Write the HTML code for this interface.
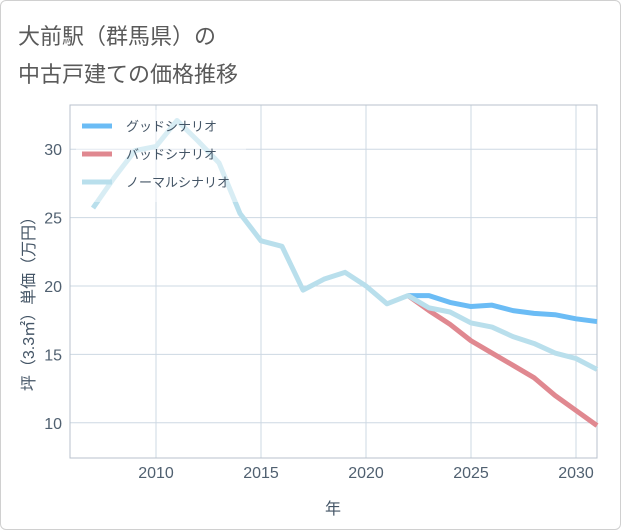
<!DOCTYPE html>
<html><head><meta charset="utf-8"><style>
body{margin:0;background:#fff;}
#wrap{position:relative;width:619px;height:528px;border:1px solid #d0d0d0;border-radius:6px;background:#fff;overflow:hidden;}
.t{position:absolute;left:17px;font:22px "Liberation Sans","Noto Sans CJK JP",sans-serif;color:#5a5a5a;}
svg text{font-family:"Liberation Sans","Noto Sans CJK JP",sans-serif;}
</style></head><body>
<div id="wrap">
<div class="t" style="top:18px">大前駅（群馬県）の</div>
<div class="t" style="top:56px">中古戸建ての価格推移</div>
<svg id="chart" width="621" height="530" style="position:absolute;left:-1px;top:-1px"></svg>
</div>
<script>
const years=[2007,2008,2009,2010,2011,2012,2013,2014,2015,2016,2017,2018,2019,2020,2021,2022,2023,2024,2025,2026,2027,2028,2029,2030,2031];
const normal=[25.7,27.9,29.9,30.2,32.1,30.6,29.0,25.3,23.3,22.9,19.7,20.5,21.0,20.0,18.7,19.3,18.4,18.1,17.3,17.0,16.3,15.8,15.1,14.7,13.9];
const fYears=[2022,2023,2024,2025,2026,2027,2028,2029,2030,2031];
const good=[19.3,19.3,18.8,18.5,18.6,18.2,18.0,17.9,17.6,17.4];
const bad=[19.3,18.2,17.2,16.0,15.1,14.2,13.3,12.0,10.9,9.8];
const xTicks=[2010,2015,2020,2025,2030];
const yTicks=[10,15,20,25,30];
const L=70,R=597,T=105,B=458;
const x=v=>156+(v-2010)*21;
const y=v=>286-(v-20)*13.68;
const svg=document.getElementById('chart');
const NS='http://www.w3.org/2000/svg';
function mk(t,a,p){const e=document.createElementNS(NS,t);for(const k in a)e.setAttribute(k,a[k]);(p||svg).appendChild(e);return e;}
let e;
xTicks.forEach(v=>{e=mk('line',{x1:x(v),x2:x(v),y1:T,y2:B,stroke:'#cdd8e3','stroke-width':1});

e=mk('text',{x:x(v),y:478,'text-anchor':'middle','font-size':16,fill:'#506070'});e.textContent=v;
});
yTicks.forEach(v=>{e=mk('line',{x1:L,x2:R,y1:y(v),y2:y(v),stroke:'#cdd8e3','stroke-width':1});

e=mk('text',{x:62,y:y(v)+6,'text-anchor':'end','font-size':16,fill:'#506070'});e.textContent=v;
});
e=mk('rect',{x:L,y:T,width:R-L,height:B-T,fill:'none',stroke:'#b8c2cc','stroke-width':1});

function line(xs,vs,c,n){const d=xs.map((v,i)=>(i?'L':'M')+x(v)+','+y(vs[i])).join(' ');
const p=mk('path',{d:d,fill:'none',stroke:c,'stroke-width':5,'stroke-linejoin':'round'});
}
line(fYears,good,'#6bbcf5','good-scenario-line');
line(fYears,bad,'#e08890','bad-scenario-line');
line(years,normal,'#b9dfec','normal-scenario-line');
e=mk('rect',{x:76,y:110,width:170,height:92,fill:'rgba(255,255,255,0.45)'});

const lg=[['グッドシナリオ','#6bbcf5'],['バッドシナリオ','#e08890'],['ノーマルシナリオ','#b9dfec']];
lg.forEach((l,i)=>{const yy=126+i*28;
e=mk('line',{x1:82,x2:112,y1:yy,y2:yy,stroke:l[1],'stroke-width':5});

e=mk('text',{x:126,y:yy+5,'font-size':13,fill:'#445566'});e.textContent=l[0];
});
e=mk('text',{x:333,y:514,'text-anchor':'middle','font-size':16,fill:'#445566'});e.textContent='年';

e=mk('text',{x:0,y:0,'text-anchor':'middle','font-size':16,fill:'#445566',transform:'translate(34,300) rotate(-90)'});e.textContent='坪（3.3㎡）単価（万円）';

</script>
</body></html>
